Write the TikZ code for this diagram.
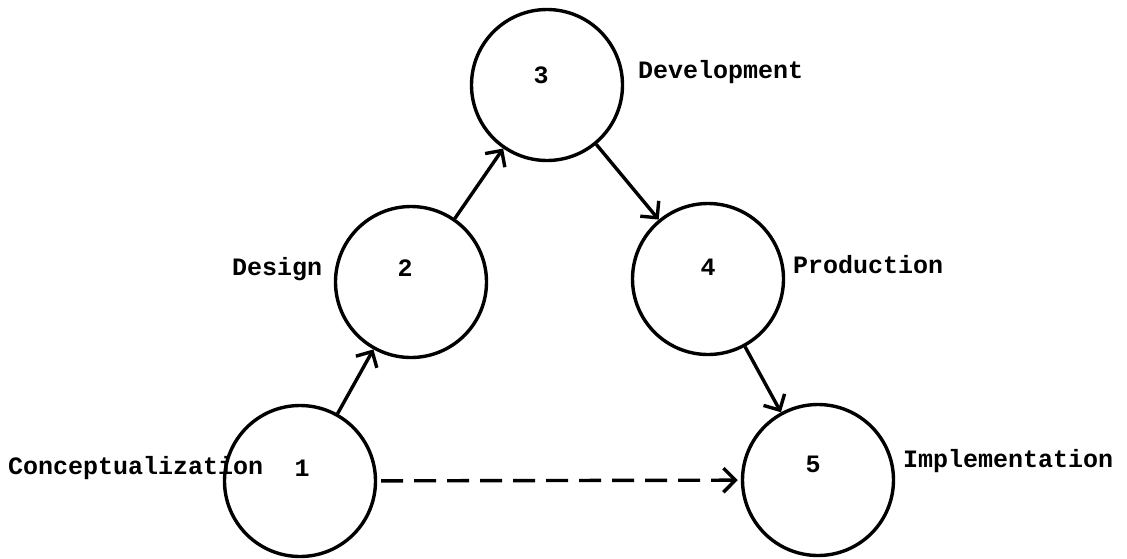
\documentclass[tikz,border=0pt]{standalone}
\usepackage{fontspec}
\setmonofont{Liberation Mono}
\usetikzlibrary{arrows.meta}
\begin{document}
\begin{tikzpicture}[x=1pt,y=-1pt,
  stage/.style={circle,draw,line width=3.4pt,minimum size=151pt,inner sep=0pt},
  lbl/.style={font=\ttfamily\bfseries\fontsize{25}{30}\selectfont,inner sep=0pt},
  conn/.style={line width=3.4pt,-{Straight Barb[length=12pt,width=24pt]}}]
\useasboundingbox[fill=white] (0,0) rectangle (1127,558);
% circles
\node[stage] (c1) at (300,481) {};
\node[stage] (c2) at (411,282) {};
\node[stage] (c3) at (547,85) {};
\node[stage] (c4) at (708,279) {};
\node[stage] (c5) at (818,480) {};
% digits
\node[lbl] (n1) at (302,468) {1};
\node[lbl] (n2) at (405,268) {2};
\node[lbl] (n3) at (541,75) {3};
\node[lbl] (n4) at (708,267) {4};
\node[lbl] (n5) at (813,464) {5};
% names
\node[lbl,anchor=base west] (t1) at (8,474) {Conceptualization};
\node[lbl,anchor=base west] (t2) at (232,275) {Design};
\node[lbl,anchor=base west] (t3) at (638,78) {Development};
\node[lbl,anchor=base west] (t4) at (793,273) {Production};
\node[lbl,anchor=base west] (t5) at (903,467) {Implementation};
% connectors
\draw[conn] (c1) -- (c2);
\draw[conn] (c2) -- (c3);
\draw[conn] (c3) -- (c4);
\draw[conn] (c4) -- (c5);
\draw[conn,dash pattern=on 22pt off 11pt,shorten <=4pt,shorten >=3pt] (c1) -- (c5);
\end{tikzpicture}
\end{document}
